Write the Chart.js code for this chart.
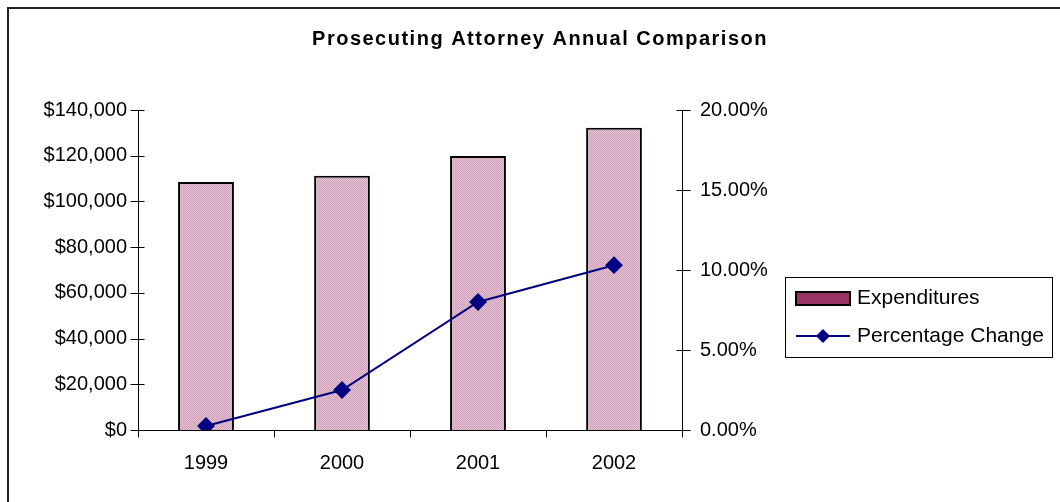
<!DOCTYPE html>
<html>
<head>
<meta charset="utf-8">
<script src="https://cdn.jsdelivr.net/npm/chart.js@4/dist/chart.umd.min.js"></script>
<style>
  html, body { margin: 0; padding: 0; background: #fff; }
  #wrap { width: 1060px; height: 502px; }
</style>
</head>
<body>
<div id="wrap"><canvas id="chart" width="1060" height="502"></canvas></div>
<script>
// valores
const years = ['1999', '2000', '2001', '2002']
const expenditures = [108500, 111200, 119900, 132200]
const pctChange = [0.25, 2.5, 8.0, 10.3]
const moneyTicks = [0, 20000, 40000, 60000, 80000, 100000, 120000, 140000]
const pctTicks = [0, 5, 10, 15, 20]

Chart.defaults.font.family = 'Arial, "Liberation Sans", sans-serif'
Chart.defaults.font.size = 20
Chart.defaults.color = '#000'

// relleno punteado rosa de las barras
function makePattern() {
    const c = document.createElement('canvas')
    c.width = 2; c.height = 2
    const g = c.getContext('2d')
    g.fillStyle = '#e2c0d2'; g.fillRect(0, 0, 2, 2)
    g.fillStyle = '#d0a2bc'; g.fillRect(0, 0, 1, 1); g.fillRect(1, 1, 1, 1)
    return g.createPattern(c, 'repeat')
}
const pink = makePattern()

// ejes, marcas, titulo, leyenda y marco
const decor = {
    id: 'decor',
    afterDraw(chart) {
        const ctx = chart.ctx
        const a = chart.chartArea
        const x = chart.scales.x, y = chart.scales.y, y1 = chart.scales.y1
        ctx.save()
        // marco exterior
        ctx.strokeStyle = '#222'; ctx.lineWidth = 2
        ctx.beginPath(); ctx.moveTo(8, 502); ctx.lineTo(8, 8); ctx.lineTo(1060, 8); ctx.stroke()

        ctx.strokeStyle = '#000'; ctx.lineWidth = 1
        ctx.beginPath()
        const L = Math.round(a.left) + 0.5, R = Math.round(a.right) + 0.5, B = Math.round(a.bottom) + 0.5
        ctx.moveTo(L, a.top); ctx.lineTo(L, B)
        ctx.moveTo(R, a.top); ctx.lineTo(R, B)
        ctx.moveTo(L, B); ctx.lineTo(R, B)
        moneyTicks.forEach(v => {
            const py = Math.round(y.getPixelForValue(v)) + 0.5
            ctx.moveTo(L - 8, py); ctx.lineTo(L + 6, py)
        })
        pctTicks.forEach(v => {
            const py = Math.round(y1.getPixelForValue(v)) + 0.5
            ctx.moveTo(R - 6, py); ctx.lineTo(R + 8, py)
        })
        for (let i = 0; i <= years.length; i++) {
            const px = Math.round(x.getPixelForValue(i - 0.5)) + 0.5
            ctx.moveTo(px, B); ctx.lineTo(px, B + 7)
        }
        ctx.stroke()

        // titulo
        ctx.fillStyle = '#000'
        ctx.font = 'bold 20px Arial, "Liberation Sans", sans-serif'
        ctx.letterSpacing = '1.5px'
        ctx.textAlign = 'center'; ctx.textBaseline = 'middle'
        ctx.fillText('Prosecuting Attorney Annual Comparison', 540, 39)
        ctx.letterSpacing = '0px'

        // leyenda
        ctx.strokeStyle = '#000'; ctx.lineWidth = 1
        ctx.strokeRect(785.5, 277.5, 267, 80)
        ctx.fillStyle = '#993366'
        ctx.fillRect(796, 292, 54, 13)
        ctx.lineWidth = 2
        ctx.strokeRect(796, 292, 54, 13)
        ctx.strokeStyle = '#000080'
        ctx.beginPath(); ctx.moveTo(796, 336); ctx.lineTo(850, 336); ctx.stroke()
        ctx.fillStyle = '#000080'
        ctx.beginPath()
        ctx.moveTo(823, 329); ctx.lineTo(830, 336); ctx.lineTo(823, 343); ctx.lineTo(816, 336)
        ctx.closePath(); ctx.fill()
        ctx.fillStyle = '#000'
        ctx.font = '21px Arial, "Liberation Sans", sans-serif'
        ctx.textAlign = 'left'
        ctx.fillText('Expenditures', 857, 298)
        ctx.fillText('Percentage Change', 857, 336)
        ctx.restore()
    }
}

new Chart(document.getElementById('chart'), {
    data: {
        labels: years,
        datasets: [{
            type: 'line',
            label: 'Percentage Change',
            data: pctChange,
            yAxisID: 'y1',
            borderColor: '#000080',
            backgroundColor: '#000080',
            borderWidth: 2,
            pointStyle: 'rectRot',
            pointRadius: 7.5,
            pointHoverRadius: 7.5,
            tension: 0,
            order: 0
        }, {
            type: 'bar',
            label: 'Expenditures',
            data: expenditures,
            yAxisID: 'y',
            backgroundColor: pink,
            borderColor: '#000',
            borderWidth: 2,
            barPercentage: 0.82,
            categoryPercentage: 0.5,
            order: 1
        }]
    },
    options: {
        responsive: false,
        animation: false,
        layout: { padding: { left: 8, right: 278, top: 110, bottom: 32 } },
        plugins: {
            legend: { display: false },
            title: { display: false },
            tooltip: { enabled: false }
        },
        scales: {
            x: {
                offset: true,
                grid: { display: false },
                border: { display: false },
                ticks: { padding: 13 },
                afterFit: s => { s.height = 40 }
            },
            y: {
                position: 'left',
                min: 0, max: 140000,
                grid: { display: false },
                border: { display: false },
                ticks: {
                    stepSize: 20000,
                    padding: 3,
                    callback: v => '$' + v.toLocaleString('en-US')
                },
                afterFit: s => { s.width = 130 }
            },
            y1: {
                position: 'right',
                min: 0, max: 20,
                grid: { display: false },
                border: { display: false },
                ticks: {
                    stepSize: 5,
                    padding: 10,
                    callback: v => v.toFixed(2) + '%'
                },
                afterFit: s => { s.width = 100 }
            }
        }
    },
    plugins: [decor]
});
</script>
</body>
</html>
